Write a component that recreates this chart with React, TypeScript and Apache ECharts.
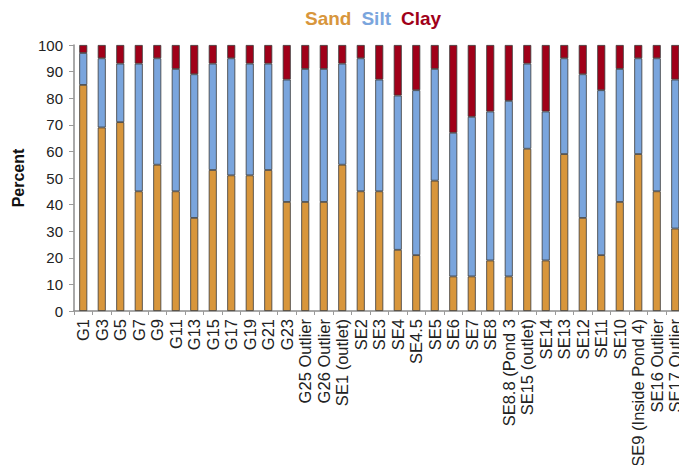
import React, { useEffect, useRef } from "react";
import * as echarts from "echarts";

// Sampling stations along the basin
const stations = [
  "G1", "G3", "G5", "G7", "G9", "G11", "G13", "G15", "G17", "G19", "G21", "G23",
  "G25 Outlier", "G26 Outlier", "SE1 (outlet)", "SE2", "SE3", "SE4", "SE4.5", "SE5",
  "SE6", "SE7", "SE8", "SE8.8 (Pond 3", "SE15 (outlet)", "SE14", "SE13", "SE12",
  "SE11", "SE10", "SE9 (Inside Pond 4)", "SE16 Outlier", "SE17 Outlier",
];

// Particle size fractions, percent of sample
const sand = [85, 69, 71, 45, 55, 45, 35, 53, 51, 51, 53, 41, 41, 41, 55, 45, 45, 23, 21, 49, 13, 13, 19, 13, 61, 19, 59, 35, 21, 41, 59, 45, 31];
const silt = [12, 26, 22, 48, 40, 46, 54, 40, 44, 42, 40, 46, 50, 50, 38, 50, 42, 58, 62, 42, 54, 60, 56, 66, 32, 56, 36, 54, 62, 50, 36, 50, 56];
const clay = [3, 5, 7, 7, 5, 9, 11, 7, 5, 7, 7, 13, 9, 9, 7, 5, 13, 19, 17, 9, 33, 27, 25, 21, 7, 25, 5, 11, 17, 9, 5, 5, 13];

const yTicks = { min: 0, max: 100, interval: 10 };

const COLORS = { Sand: "#D8963C", Silt: "#7AA5DD", Clay: "#A00019" };
const FONT = "'Liberation Sans', Arial, Helvetica, sans-serif";

export default function App() {
  const ref = useRef<HTMLDivElement>(null);

  useEffect(() => {
    if (!ref.current) return;
    const chart = echarts.init(ref.current, null, { renderer: "svg" });

    const mkSeries = (name: "Sand" | "Silt" | "Clay", data: number[]) => ({
      name,
      type: "bar",
      stack: "total",
      data,
      barWidth: 8,
      itemStyle: { color: COLORS[name], borderColor: "#3a3a3a", borderWidth: 0.8 },
    });

    chart.setOption({
      animation: false,
      textStyle: { fontFamily: FONT },
      legend: {
        left: 294,
        top: 4,
        itemWidth: 0,
        itemHeight: 0,
        itemGap: 4,
        selectedMode: false,
        data: (["Sand", "Silt", "Clay"] as const).map((n) => ({
          name: n,
          textStyle: { color: COLORS[n], fontWeight: "bold", fontSize: 19, fontFamily: FONT },
        })),
      },
      grid: {
        left: 74,
        top: 45,
        bottom: 154,
        right: -5.5,
        containLabel: false,
        outerBoundsMode: "none",
      },
      xAxis: {
        type: "category",
        data: stations,
        axisLine: { lineStyle: { color: "#8c8c8c", width: 1.5 } },
        axisTick: { show: true, alignWithLabel: false, length: 4, lineStyle: { color: "#9a9a9a" } },
        axisLabel: {
          interval: 0,
          rotate: 90,
          margin: 8,
          fontSize: 16.5,
          color: "#222",
          fontFamily: FONT,
        },
      },
      yAxis: {
        type: "value",
        min: yTicks.min,
        max: yTicks.max,
        interval: yTicks.interval,
        name: "Percent",
        nameLocation: "middle",
        nameRotate: 90,
        nameGap: 48,
        nameTextStyle: { fontWeight: "bold", fontSize: 16, color: "#111", fontFamily: FONT },
        axisLine: { show: true, lineStyle: { color: "#8c8c8c", width: 1.5 } },
        axisTick: { show: true, length: 5, lineStyle: { color: "#9a9a9a" } },
        splitLine: { show: false },
        axisLabel: { fontSize: 15, color: "#222", margin: 11, fontFamily: FONT },
      },
      series: [mkSeries("Sand", sand), mkSeries("Silt", silt), mkSeries("Clay", clay)],
    });

    return () => chart.dispose();
  }, []);

  return (
    <div
      ref={ref}
      style={{ position: "fixed", left: 0, top: 0, width: 679, height: 465, background: "#fff" }}
    />
  );
}
